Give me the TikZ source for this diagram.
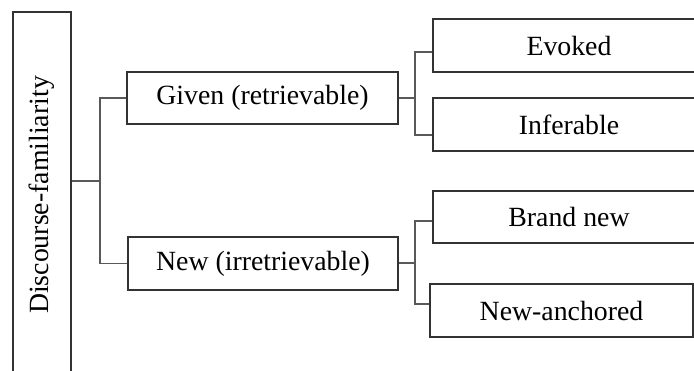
\documentclass[tikz,border=0pt]{standalone}
\usepackage{fontspec}
\setmainfont{Liberation Serif}
\begin{document}
\begin{tikzpicture}[x=1pt,y=-1pt,
  box/.style={draw=black!80, line width=1.9pt, inner sep=0pt, align=center,
    font=\fontsize{27.8}{32}\selectfont},
  conn/.style={draw=black!65, line width=1.4pt}]
\useasboundingbox (0,0) rectangle (694,370);
% left vertical box
\node[box, rotate=90, minimum width=366pt, minimum height=58pt] (disc) at (42,195) {Discourse-familiarity};
% middle boxes
\node[box, minimum width=271pt, minimum height=52pt] (given) at (262.5,98) {Given (retrievable)};
\node[box, minimum width=270pt, minimum height=53pt] (new) at (263,263.5) {New (irretrievable)};
% right boxes
\node[box, minimum width=272pt, minimum height=53pt] (ev) at (569,45.5) {Evoked};
\node[box, minimum width=272pt, minimum height=53pt] (inf) at (569,124.5) {Inferable};
\node[box, minimum width=272pt, minimum height=52pt] (bn) at (569,217) {Brand new};
\node[box, minimum width=263pt, minimum height=53pt] (na) at (561.5,310.5) {New-anchored};
% junctions
\coordinate (j1) at (100,181);
\coordinate (j2) at (415,98);
\coordinate (j3) at (415,263);
% connectors
\draw[conn] (disc.south |- j1) -- (j1);
\draw[conn] (given.west) -| (j1) |- (new.west);
\draw[conn] (given.east) -- (j2);
\draw[conn] ([yshift=-6.5pt]ev.west) -| (j2) |- ([yshift=-10.5pt]inf.west);
\draw[conn] (new.east |- j3) -- (j3);
\draw[conn] ([yshift=-4pt]bn.west) -| (j3) |- ([yshift=6.5pt]na.west);
\end{tikzpicture}
\end{document}
